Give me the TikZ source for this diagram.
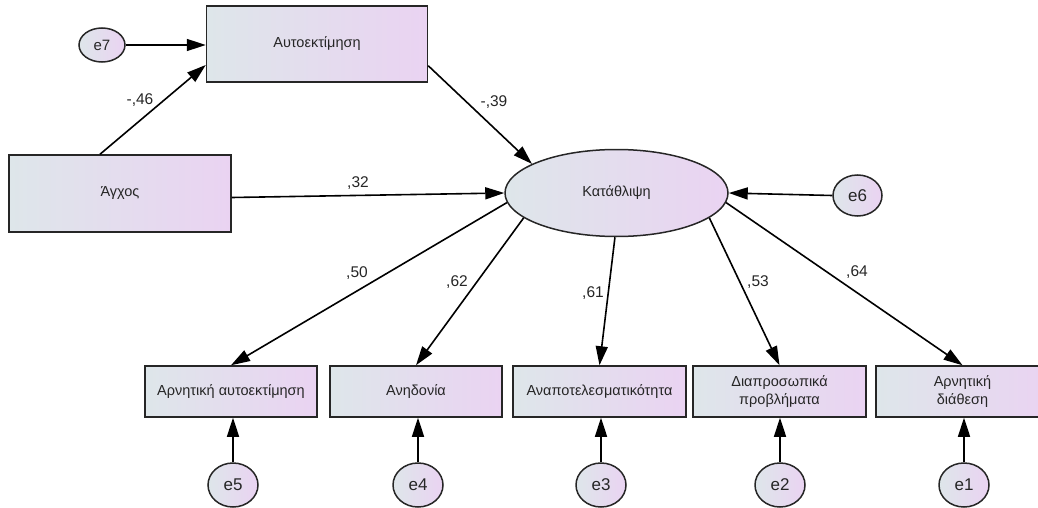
\documentclass[tikz,border=0pt]{standalone}
\usepackage{fontspec}
\setmainfont{Liberation Sans}
\usetikzlibrary{arrows.meta}
\usetikzlibrary{shapes.geometric}
\definecolor{fillleft}{RGB}{222,230,234}
\definecolor{fillright}{RGB}{234,211,242}
\tikzstyle{observed}=[draw=black!85, line width=1.5pt, left color=fillleft, right color=fillright, inner sep=0pt, align=center]
\tikzstyle{latent}=[observed, ellipse]
\tikzstyle{error}=[latent, minimum width=50, minimum height=44, font=\fontsize{17}{20}\selectfont]
\tikzstyle{path}=[line width=1.6pt, -{Triangle[length=19pt,width=12pt]}]
\tikzstyle{coef}=[inner sep=0pt, font=\fontsize{15.5}{18}\selectfont]

\begin{document}
\begin{tikzpicture}[x=1pt, y=-1pt, font=\fontsize{14.5}{18}\selectfont, text=black!85]
  \useasboundingbox (0,0) rectangle (1038,508);
  % variables
  \node[observed, minimum width=221, minimum height=76] (selfesteem) at (317,44) {Αυτοεκτίμηση};
  \node[observed, minimum width=222, minimum height=77] (anxiety) at (120,193.5) {Άγχος};
  \node[latent, minimum width=223, minimum height=87] (depression) at (616.5,193) {Κατάθλιψη};
  \node[error, minimum width=46, minimum height=34, font=\fontsize{15}{18}\selectfont] (e7) at (102,45) {e7};
  \node[error, minimum width=49, minimum height=41] (e6) at (857.5,195.5) {e6};
  \node[observed, minimum width=172, minimum height=51] (negself) at (231,391.5) {Αρνητική αυτοεκτίμηση};
  \node[observed, minimum width=172, minimum height=51] (anhedonia) at (416,391.5) {Ανηδονία};
  \node[observed, minimum width=173, minimum height=51] (inefficacy) at (599.5,391.5) {Αναποτελεσματικότητα};
  \node[observed, minimum width=173, minimum height=51] (interpers) at (779.5,391.5) {Διαπροσωπικά\\προβλήματα};
  \node[observed, minimum width=173, minimum height=51] (negmood) at (962.5,391.5) {Αρνητική\\διάθεση};
  \node[error] (e5) at (233,485) {e5};
  \node[error] (e4) at (418,485) {e4};
  \node[error] (e3) at (601,485) {e3};
  \node[error] (e2) at (780,485) {e2};
  \node[error] (e1) at (964,485) {e1};

  % paths
  \draw[path] (e7.east) -- (e7.east -| selfesteem.west);
  \draw[path] ([xshift=-20pt]anxiety.north) -- ([yshift=-21pt]selfesteem.west);
  \draw[path] ([yshift=17pt]selfesteem.south east) -- (depression.161);
  \draw[path] ([yshift=-4pt]anxiety.east) -- (depression.west);
  \draw[path] (e6.west) -- (depression.east);
  \draw[path] (depression.185) -- (negself.north);
  \draw[path] (depression.195) -- (anhedonia.north);
  \draw[path] (depression.268) -- (inefficacy.north);
  \draw[path] (depression.345) -- (interpers.north);
  \draw[path] (depression.355) -- (negmood.north);
  \foreach \err/\ind in {e5/negself, e4/anhedonia, e3/inefficacy, e2/interpers, e1/negmood}
    \draw[path] (\err.north) -- (\err.north |- \ind.south);

  % coefficients
  \node[coef] (c46) at (140,100) {-,46};
  \node[coef] (c39) at (494,102) {-,39};
  \node[coef] (c32) at (358,183) {,32};
  \node[coef] (c50) at (357,273) {,50};
  \node[coef] (c62) at (457,282) {,62};
  \node[coef] (c61) at (593,293) {,61};
  \node[coef] (c53) at (758,282) {,53};
  \node[coef] (c64) at (857,272) {,64};
\end{tikzpicture}
\end{document}
